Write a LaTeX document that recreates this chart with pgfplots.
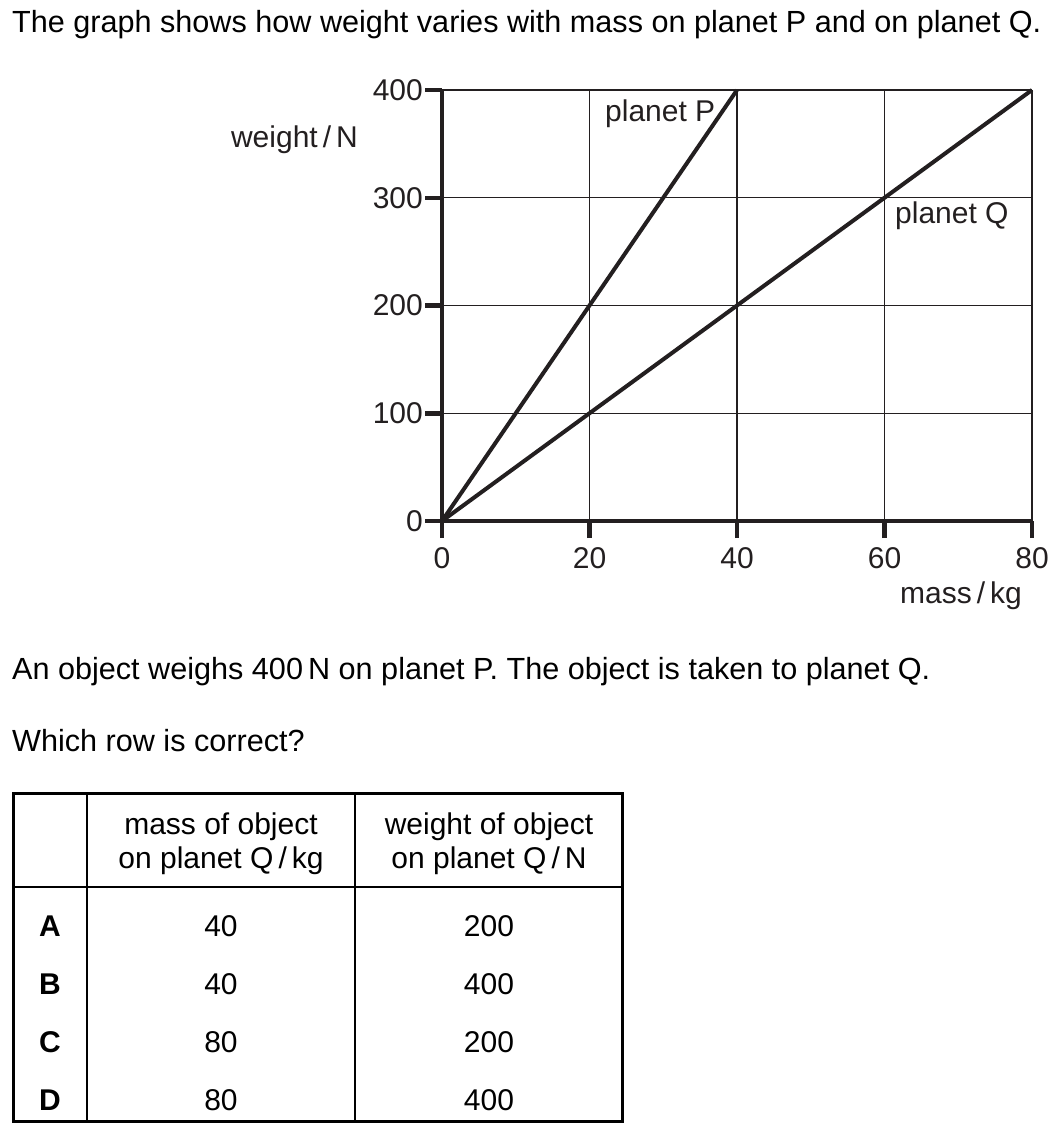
\documentclass[border=0pt]{standalone}
\usepackage{fontspec}
\setmainfont{Liberation Sans}
\usepackage{pgfplots}
\pgfplotsset{compat=1.18}
\definecolor{ink}{HTML}{231F20}
\begin{document}
\fontsize{30}{36}\selectfont
\begin{tikzpicture}[x=1pt,y=1pt]
\path[use as bounding box] (0,0) rectangle (1061,-1142);
\node[anchor=base west, inner sep=0, font=\fontsize{30.6}{36}\selectfont] at (12,-33) {The graph shows how weight varies with mass on planet P and on planet Q.};
\begin{axis}[
  at={(442pt,-521pt)}, anchor=south west,
  scale only axis, width=590pt, height=431pt,
  xmin=0, xmax=80, ymin=0, ymax=400,
  xtick={0,20,40,60,80}, ytick={0,100,200,300,400},
  grid=major, major grid style={ink, line width=1.2pt},
  axis x line=bottom, axis y line=left,
  axis line style={-, ink, line width=4.5pt},
  tick align=outside, major tick length=17pt,
  tick style={ink, line width=4.5pt},
  ticklabel style={font=\fontsize{30}{36}\selectfont, text=ink},
  yticklabel style={inner sep=0pt, xshift=-2pt},
  xticklabel style={inner sep=0pt, yshift=-9pt},
  /pgf/number format/assume math mode=true,
  clip=false,
]
\addplot[ink, line width=4pt] coordinates {(0,0) (40,400)};
\addplot[ink, line width=4pt] coordinates {(0,0) (80,400)};
\end{axis}
\node[anchor=base east, inner sep=0, text=ink] at (358,-148) {weight\,/\,N};
\node[anchor=base, inner sep=0, text=ink] at (961,-603) {mass\,/\,kg};
\node[anchor=base west, inner sep=0, text=ink] at (605,-122) {planet P};
\node[anchor=base west, inner sep=0, text=ink] at (895,-223) {planet Q};
\node[anchor=base west, inner sep=0, font=\fontsize{30.6}{36}\selectfont] at (12,-679) {An object weighs 400\,N on planet P. The object is taken to planet Q.};
\node[anchor=base west, inner sep=0, font=\fontsize{30.6}{36}\selectfont] at (12,-751) {Which row is correct?};
% table
\draw[line width=3pt] (13,-793) rectangle (622,-1121);
\draw[line width=2.5pt] (13,-887) -- (622,-887);
\draw[line width=2.5pt] (87,-793) -- (87,-1121);
\draw[line width=2.5pt] (355,-793) -- (355,-1121);
\node[anchor=base, inner sep=0] at (221,-834) {mass of object};
\node[anchor=base, inner sep=0] at (221,-868) {on planet Q\,/\,kg};
\node[anchor=base, inner sep=0] at (489,-834) {weight of object};
\node[anchor=base, inner sep=0] at (489,-868) {on planet Q\,/\,N};
\foreach \r/\a/\b [count=\i from 0] in {A/40/200, B/40/400, C/80/200, D/80/400} {
  \node[anchor=base, inner sep=0, font=\bfseries] at (50,-936-58*\i) {\r};
  \node[anchor=base, inner sep=0] at (221,-936-58*\i) {\a};
  \node[anchor=base, inner sep=0] at (489,-936-58*\i) {\b};
}
\end{tikzpicture}
\end{document}
